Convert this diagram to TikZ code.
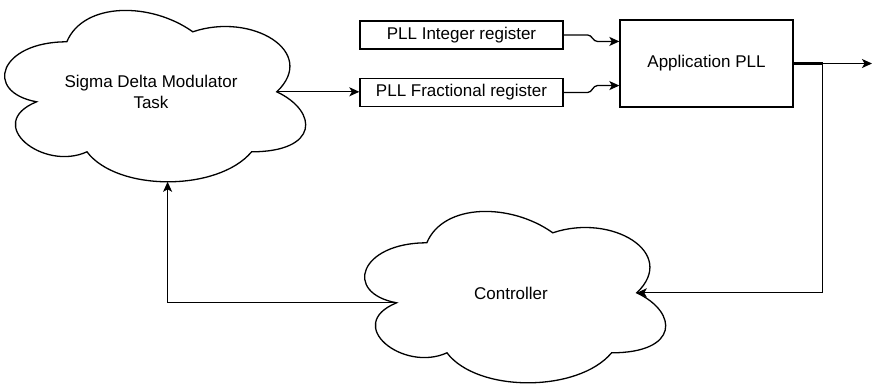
\documentclass[tikz,border=0pt]{standalone}
\usepackage{fontspec}
\setmainfont{Liberation Sans}
\usetikzlibrary{arrows.meta,calc}

% size of the cloud shapes
\newlength\cloudw \setlength\cloudw{336pt}
\newlength\cloudh \setlength\cloudh{200pt}

% draws a cloud outline filling the box of node #1 and names its ports
\newcommand\drawcloud[1]{%
  \begin{scope}[shift={(#1.north west)}, x={(\cloudw,0pt)}, y={(0pt,-\cloudh)}]
    \draw[shapeline] (0.25,0.25)
      .. controls (0.05,0.25) and (0,0.5) .. (0.16,0.55)
      .. controls (0,0.66) and (0.18,0.9) .. (0.31,0.8)
      .. controls (0.4,1) and (0.7,1) .. (0.8,0.8)
      .. controls (1,0.8) and (1,0.6) .. (0.875,0.5)
      .. controls (1,0.3) and (0.8,0.1) .. (0.625,0.2)
      .. controls (0.5,0.05) and (0.3,0.05) .. (0.25,0.25) -- cycle;
    \coordinate (#1-left) at (0.16,0.55);
    \coordinate (#1-right) at (0.875,0.5);
    \coordinate (#1-bottom) at (0.55,0.95);
  \end{scope}}

\begin{document}
\begin{tikzpicture}[
  x=1pt, y=-1pt,
  font=\fontsize{17}{21}\selectfont,
  shapeline/.style={draw=black, line width=1.3pt},
  cloudbox/.style={minimum width=\cloudw, minimum height=\cloudh, inner sep=0pt, align=center},
  regbox/.style={shapeline, minimum width=203pt, minimum height=28pt, inner sep=0pt},
  link/.style={draw=black, line width=1.3pt, -{Stealth[length=10pt, width=9pt, inset=2.5pt]}},
  sharedlink/.style={draw=black, line width=2.4pt},
]
\useasboundingbox (0,0) rectangle (873,384);

% nodes
\node[cloudbox] (sigma) at (151,92) {Sigma Delta Modulator\\Task};
\drawcloud{sigma}
\node[cloudbox] (ctrl) at (511,293) {Controller};
\drawcloud{ctrl}

\node[regbox] (intreg) at (461.5,35) {PLL Integer register};
\node[regbox] (fracreg) at (461.5,92.5) {PLL Fractional register};
\node[shapeline, minimum width=173pt, minimum height=87pt, inner sep=0pt] (pll) at (706.5,63.5) {Application PLL};

% ports
\coordinate (pll-in1) at ($(pll.north west)!0.25!(pll.south west)$);
\coordinate (pll-in2) at ($(pll.north west)!0.75!(pll.south west)$);
\coordinate (split) at ($(pll.east)+(29,0)$);
\coordinate (out) at (872,63.5);

% connectors
\draw[link] (sigma-right) -- (sigma-right -| fracreg.west);
\draw[link] (intreg.east) -- ++(24,0) to[out=0,in=180] ([xshift=-22pt]pll-in1) -- (pll-in1);
\draw[link] (fracreg.east) -- ++(24,0) to[out=0,in=180] ([xshift=-22pt]pll-in2) -- (pll-in2);
\draw[link] (pll.east) -- (split) -- (out);
\draw[link] (split) |- (ctrl-right);
\draw[link] (ctrl-left) -| (sigma-bottom);
% both outputs leave the PLL on the same short stub
\draw[sharedlink] (pll.east) -- (split);
\end{tikzpicture}
\end{document}
